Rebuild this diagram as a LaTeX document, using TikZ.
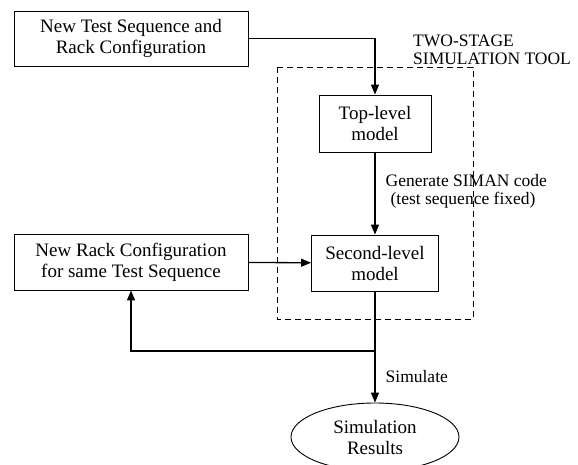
\documentclass[tikz,border=0pt]{standalone}
\usepackage{fontspec}
\setmainfont{Liberation Serif}
\usetikzlibrary{arrows.meta}
\usetikzlibrary{shapes.geometric}

\begin{document}
\begin{tikzpicture}[x=1pt,y=-1pt]
    \tikzstyle{Edge} = [
            draw=black,
            line width=1.3pt,
            -{Triangle[length=10pt,width=8pt]}
    ];
    \tikzstyle{Line} = [
            draw=black,
            line width=1.3pt
    ];
    \tikzstyle{Block} = [
            draw=black,
            line width=0.9pt,
            rectangle,
            inner sep=0pt,
            align=center,
            font={\fontsize{19}{21}\selectfont}
    ];
    \tikzstyle{Result} = [
            Block,
            ellipse,
            minimum width=168pt,
            minimum height=68pt
    ];
    \tikzstyle{EdgeLabel} = [
            anchor=west,
            align=left,
            inner sep=0pt,
            font={\fontsize{17.5}{18.5}\selectfont}
    ];

    \useasboundingbox (0,0) rectangle (578,464);

    % stage box
    \draw[line width=0.9pt, dash pattern=on 6pt off 4pt] (277,67) rectangle (473,319);
    \node[EdgeLabel, name=StageLabel] at (413,50) {TWO-STAGE\\SIMULATION TOOL};

    \node[Block, name=NewTest, minimum width=234pt, minimum height=55pt] at (131,38.5)
        {New Test Sequence and\\Rack Configuration};
    \node[Block, name=TopLevel, minimum width=112pt, minimum height=57pt] at (375,123.5)
        {Top-level\\model};
    \node[Block, name=SecondLevel, minimum width=127pt, minimum height=56pt] at (375,263)
        {Second-level\\model};
    \node[Block, name=NewRack, minimum width=234pt, minimum height=56pt] at (131,262)
        {New Rack Configuration\\for same Test Sequence};
    \node[Result, name=Results] at (375,437) {Simulation\\Results};
    \coordinate (Split) at (375,351);

    \draw[Edge] (NewTest) -| (TopLevel);
    \draw[Edge] (TopLevel) -- (SecondLevel)
        node[EdgeLabel, pos=0.47, xshift=10pt] {Generate SIMAN code\\\hspace{5pt}(test sequence fixed)};
    \draw[Edge] (NewRack) -- (SecondLevel);
    \draw[Line] (SecondLevel) -- (Split);
    \draw[Edge] (Split) -- (Results)
        node[EdgeLabel, midway, xshift=10pt] {Simulate};
    \draw[Edge] (Split) -| (NewRack);
\end{tikzpicture}
\end{document}
